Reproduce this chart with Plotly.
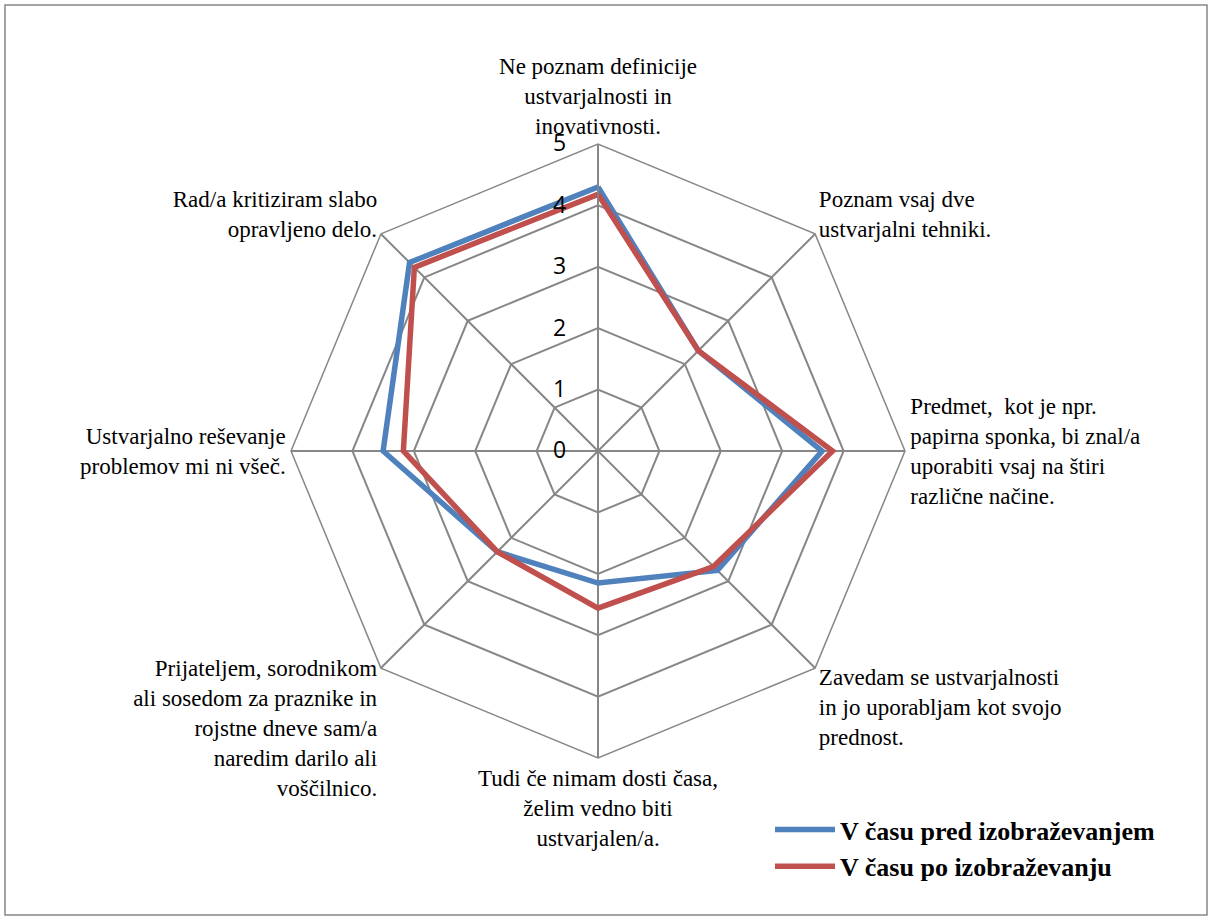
import plotly.graph_objects as go

categories = [
    "Ne poznam definicije<br>ustvarjalnosti in<br>inovativnosti.",
    "Poznam vsaj dve<br>ustvarjalni tehniki.",
    "Predmet,  kot je npr.<br>papirna sponka, bi znal/a<br>uporabiti vsaj na štiri<br>različne načine.",
    "Zavedam se ustvarjalnosti<br>in jo uporabljam kot svojo<br>prednost.",
    "Tudi če nimam dosti časa,<br>želim vedno biti<br>ustvarjalen/a.",
    "Prijateljem, sorodnikom<br>ali sosedom za praznike in<br>rojstne dneve sam/a<br>naredim darilo ali<br>voščilnico.",
    "Ustvarjalno reševanje<br>problemov mi ni všeč.",
    "Rad/a kritiziram slabo<br>opravljeno delo.",
]
before = [4.30, 2.31, 3.65, 2.75, 2.15, 2.32, 3.50, 4.34]
after = [4.18, 2.31, 3.82, 2.66, 2.56, 2.32, 3.17, 4.23]
series_names = ["<b>V času pred izobraževanjem</b>", "<b>V času po izobraževanju</b>"]
radial_ticks = [0, 1, 2, 3, 4, 5]

fig = go.Figure()
for name, vals, col in [(series_names[0], before, "#4F81BD"), (series_names[1], after, "#C0504D")]:
    fig.add_trace(go.Scatterpolar(
        r=vals + vals[:1], theta=categories + categories[:1], mode="lines",
        name=name, line=dict(color=col, width=5.5),
    ))

W, H = 1212, 922
cx, cy, R = 598, 451, 307
fig.update_layout(
    width=W, height=H, margin=dict(l=0, r=0, t=0, b=0),
    paper_bgcolor="white", plot_bgcolor="white",
    showlegend=True,
    legend=dict(x=770 / W, y=1 - 806 / H, xanchor="left", yanchor="top",
                font=dict(family="Liberation Serif", size=26, color="black"),
                itemwidth=60, tracegroupgap=0),
    polar=dict(
        domain=dict(x=[(cx - R) / W, (cx + R) / W], y=[(H - cy - R) / H, (H - cy + R) / H]),
        gridshape="linear", bgcolor="white",
        angularaxis=dict(direction="clockwise", rotation=90, linecolor="#878787", linewidth=1.5,
                         gridcolor="#878787", gridwidth=1.5, showline=True, ticks="",
                         tickfont=dict(family="Liberation Serif", size=23, color="black")),
        radialaxis=dict(range=[0, 5], tickvals=radial_ticks,
                        ticktext=[f"{v}\u2003" for v in radial_ticks],
                        angle=90, tickangle=90,
                        side="counterclockwise", showline=True, linecolor="#878787", linewidth=1.5,
                        gridcolor="#878787", gridwidth=1.5, ticks="",
                        tickfont=dict(family="Open Sans", size=23, color="black")),
    ),
    shapes=[dict(type="rect", xref="paper", yref="paper", x0=5 / W, x1=1207 / W, y0=1 - 915 / H, y1=1 - 5 / H,
                 line=dict(color="#878787", width=1.5))],
)
fig.write_html("out.html")
